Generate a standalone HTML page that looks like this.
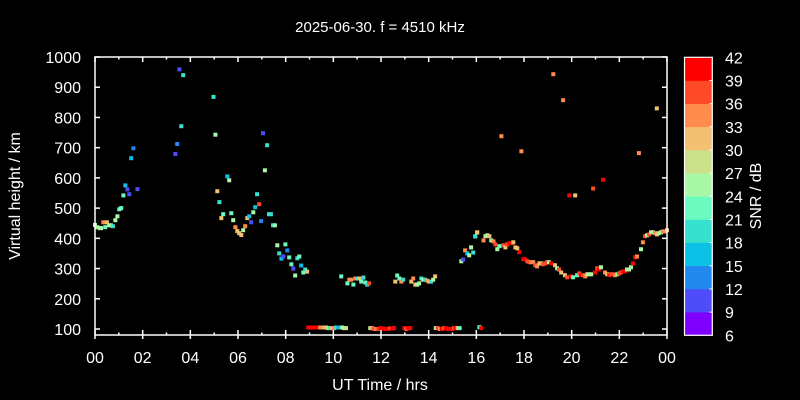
<!DOCTYPE html>
<html><head><meta charset="utf-8"><style>
html,body{margin:0;padding:0;background:#000;}
svg{display:block;}
text{font-family:"Liberation Sans",sans-serif;fill:#fff;}
</style></head><body>
<svg id="chart" width="800" height="400" viewBox="0 0 800 400">
<rect width="800" height="400" fill="#000"/>
<text x="380" y="32" font-size="15" text-anchor="middle">2025-06-30. f = 4510 kHz</text>
<g id="marks"></g>
<g id="axes"></g>
<text x="380" y="390" font-size="16" text-anchor="middle">UT Time / hrs</text>
<text transform="translate(20,196) rotate(-90)" font-size="16" text-anchor="middle">Virtual height / km</text>
<g id="cbar"></g>
<text transform="translate(761,196) rotate(-90)" font-size="16" text-anchor="middle">SNR / dB</text>
</svg>
<script>
const hours=[0,0.1,0.2,0.25,0.35,0.43,0.5,0.59,0.67,0.75,0.85,0.94,1.02,1.1,1.19,1.27,1.36,1.44,1.52,1.61,1.78,3.37,3.45,3.54,3.7,3.62,4.97,5.05,5.13,5.22,5.3,5.38,5.55,5.63,5.72,5.8,5.89,5.97,6.05,6.14,6.22,6.3,6.39,6.47,6.55,6.64,6.72,6.8,6.89,6.97,7.05,7.13,7.22,7.3,7.38,7.47,7.55,7.65,7.73,7.82,7.9,7.99,8.07,8.15,8.24,8.32,8.4,8.49,8.57,8.65,8.74,8.82,8.9,
10.33,10.59,10.67,10.75,10.84,10.92,11.0,11.09,11.17,11.26,11.34,11.42,11.5,12.6,12.68,12.77,12.85,12.93,13.27,13.35,13.44,13.52,13.6,13.69,13.77,13.85,13.94,14.02,14.1,14.19,14.27,15.37,15.45,15.53,15.62,15.7,15.78,15.87,15.95,16.03,
8.95,9.03,9.12,9.2,9.28,9.37,9.45,9.53,9.62,9.7,9.78,9.87,9.95,10.03,10.12,10.2,10.28,10.37,10.45,10.53,
11.55,11.63,11.72,11.8,11.88,11.97,12.05,12.13,12.22,12.3,12.38,12.47,12.55,12.98,13.06,13.15,13.23,
14.3,14.38,14.47,14.55,14.63,14.72,14.8,14.88,14.97,15.05,15.13,15.22,15.3,16.13,16.2,
15.96,16.04,16.3,16.38,16.46,16.55,16.63,16.72,16.8,16.88,16.97,17.05,17.13,17.22,17.3,17.38,17.47,17.55,17.64,17.72,17.8,17.89,17.97,18.05,18.14,18.22,18.3,18.39,18.47,18.55,18.64,18.72,18.8,18.89,18.97,19.05,19.14,19.23,19.3,19.39,19.47,19.56,19.64,19.72,19.81,19.9,19.98,20.06,20.15,20.23,20.32,20.4,20.48,20.57,20.65,20.73,20.82,20.9,20.98,21.07,21.15,21.23,21.32,21.4,21.49,21.57,21.65,21.74,21.82,21.91,21.99,22.07,22.16,22.24,22.32,22.41,22.49,22.57,22.66,22.74,22.82,22.91,22.99,23.08,23.16,23.25,23.33,23.41,23.5,23.57,23.58,23.66,23.75,23.83,23.91,24.0];
const heights=[444,437,434,434,453,437,453,443,443,440,460,473,496,500,542,575,562,546,665,698,563,679,712,959,940,771,868,743,556,520,467,480,605,592,483,460,437,424,417,411,427,440,467,473,453,486,503,546,513,457,748,625,708,480,480,443,443,377,350,333,340,380,360,337,314,300,277,334,340,310,287,297,290,
274,251,263,263,247,267,267,267,257,270,254,247,251,257,277,267,257,263,257,267,247,247,251,267,263,263,260,257,257,263,274,324,330,360,350,344,370,353,406,419,
105,105,105,105,105,105,105,105,105,105,103,103,103,103,105,105,105,105,103,103,
103,103,100,100,100,103,102,101,100,101,102,102,103,103,100,103,103,
103,103,100,100,103,103,100,100,100,103,103,103,103,106,103,
407,420,393,407,410,407,393,390,380,364,374,738,377,370,380,384,384,387,370,367,354,688,331,331,324,321,321,321,311,307,317,317,314,317,321,321,317,943,311,301,297,287,857,278,271,542,274,271,542,278,284,278,278,274,281,281,281,565,287,301,297,304,594,287,281,278,281,281,278,281,284,287,291,291,297,297,304,317,337,340,682,364,387,407,410,413,420,420,417,830,413,417,420,423,423,427];
const snrs=[27,27,27,27,36,24,33,27,27,21,27,27,24,24,24,18,12,12,18,15,12,12,15,12,21,21,21,27,33,21,33,24,18,27,24,27,36,33,33,33,27,36,33,18,12,27,18,21,39,15,12,27,21,21,21,21,27,27,21,18,12,24,15,24,24,12,27,21,24,18,24,21,33,
24,24,36,36,24,36,21,33,24,21,24,21,39,33,24,24,36,21,33,36,33,27,27,21,27,21,36,33,21,27,33,27,12,36,18,27,27,21,21,33,
42,42,42,42,42,42,36,36,33,33,30,21,33,36,21,18,18,27,27,30,
27,36,39,36,39,42,42,42,42,42,39,42,42,42,39,42,42,
27,39,36,42,39,42,42,42,42,39,42,33,24,24,42,
21,33,36,30,27,33,27,36,39,27,24,36,39,33,39,42,42,33,33,33,42,36,42,42,39,39,36,36,39,36,33,33,39,39,39,27,42,36,33,27,39,33,36,33,39,42,42,24,33,24,39,42,39,36,30,27,27,39,42,39,42,27,42,36,33,42,39,39,36,27,39,39,42,42,27,27,27,42,42,36,36,27,36,39,27,39,30,27,36,33,33,27,27,36,36,33];
const yTicks=[100,200,300,400,500,600,700,800,900,1000];
const xTickLabels=["00","02","04","06","08","10","12","14","16","18","20","22","00"];
const cbarLabels=[6,9,12,15,18,21,24,27,30,33,36,39,42];
const cbarColors=["#8000ff","#4f4cfa","#2288ee","#0cc0e6","#38e0d0","#6cfac0","#a8f8a8","#cce08a","#f2c070","#ff8c4c","#ff4a28","#ff0000"];

const NS="http://www.w3.org/2000/svg";
const L=95,R=667,T=57,B=335;
function xS(h){return L+h*(R-L)/24;}
function yS(km){return 57+(1000-km)*272/900;}
function col(s){let i=Math.ceil((s-6)/3)-1;i=Math.max(0,Math.min(11,i));return cbarColors[i];}
function mk(tag,attrs,parent){const e=document.createElementNS(NS,tag);for(const k in attrs)e.setAttribute(k,attrs[k]);parent.appendChild(e);return e;}

const marks=document.getElementById('marks');
for(let i=0;i<hours.length;i++){
  const r=mk('rect',{x:(xS(hours[i])-2).toFixed(1),y:(yS(heights[i])-2).toFixed(1),width:4,height:4,fill:col(snrs[i])},marks);
  
  
}
const axes=document.getElementById('axes');
const frame=mk('rect',{x:L,y:T,width:R-L,height:B-T,fill:'none',stroke:'#fff','stroke-width':1.5},axes);


yTicks.forEach(v=>{
  const y=yS(v);
  mk('line',{x1:L,x2:L+5,y1:y,y2:y,stroke:'#fff','stroke-width':1.5},axes);
  mk('line',{x1:R,x2:R-5,y1:y,y2:y,stroke:'#fff','stroke-width':1.5},axes);
  const t=mk('text',{x:L-14,y:y+6,'font-size':16,'text-anchor':'end'},axes);
  t.textContent=v;
  
  
});
for(let h=0;h<=24;h++){
  const x=xS(h),len=h%2===0?5:2.5;
  mk('line',{x1:x,x2:x,y1:B+(h%2===0?4:0),y2:B-len,stroke:'#fff','stroke-width':1.5},axes);
  mk('line',{x1:x,x2:x,y1:T,y2:T+len,stroke:'#fff','stroke-width':1.5},axes);
}
xTickLabels.forEach((lab,i)=>{
  const t=mk('text',{x:xS(i*2),y:B+28,'font-size':16,'text-anchor':'middle'},axes);
  t.textContent=lab;
  
  
});
const cb=document.getElementById('cbar');
const cT=57.3,cB=335.3,cL=684.5,cR=712.3,bh=(cB-cT)/12;
cbarColors.forEach((c,i)=>{
  const r=mk('rect',{x:cL,y:cB-(i+1)*bh,width:cR-cL,height:bh+0.3,fill:c},cb);
  
  
});
mk('rect',{x:cL,y:cT,width:cR-cL,height:cB-cT,fill:'none',stroke:'#fff','stroke-width':1.2},cb);
cbarLabels.forEach((v,i)=>{
  const y=cB-i*bh;
  if(i>0&&i<12){mk('line',{x1:cR-3,x2:cR,y1:y,y2:y,stroke:'#fff','stroke-width':1},cb);}
  const t=mk('text',{x:725,y:y+6,'font-size':16},cb);
  t.textContent=v;
  
  
});
</script>
</body></html>
